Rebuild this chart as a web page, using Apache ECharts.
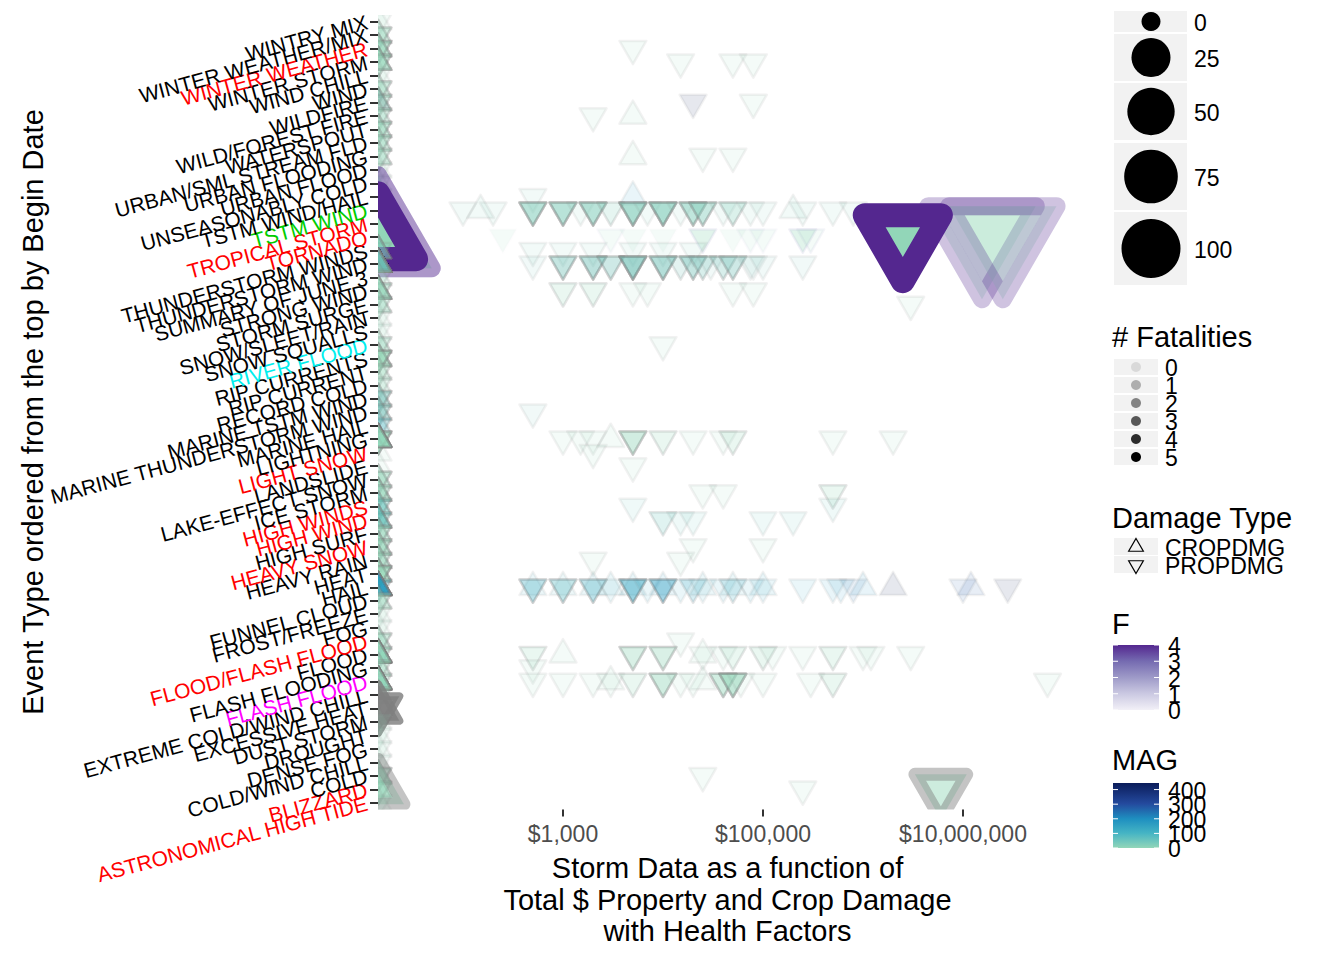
<!DOCTYPE html>
<html><head><meta charset="utf-8">
<script src="https://cdn.jsdelivr.net/npm/echarts@6/dist/echarts.min.js"></script>
<style>html,body{margin:0;padding:0;background:#fff}#c{width:1344px;height:960px}</style>
</head><body><div id="c"></div>
<script>
// Event types, bottom to top
const categories = ["ASTRONOMICAL HIGH TIDE","BLIZZARD","COLD","COLD/WIND CHILL","DENSE FOG","DROUGHT","DUST STORM","EXCESSIVE HEAT","EXTREME COLD/WIND CHILL","FLASH FLOOD","FLASH FLOODING","FLOOD","FLOOD/FLASH FLOOD","FOG","FROST/FREEZE","FUNNEL CLOUD","HAIL","HEAT","HEAVY RAIN","HEAVY SNOW","HIGH SURF","HIGH WIND","HIGH WINDS","ICE STORM","LAKE-EFFECT SNOW","LANDSLIDE","LIGHT SNOW","LIGHTNING","MARINE HAIL","MARINE THUNDERSTORM WIND","MARINE TSTM WIND","RECORD COLD","RIP CURRENT","RIP CURRENTS","RIVER FLOOD","SNOW SQUALLS","SNOW/SLEET/RAIN","STORM SURGE","STRONG WIND","SUMMARY OF JUNE 3","THUNDERSTORM WIND","THUNDERSTORM WINDS","TORNADO","TROPICAL STORM","TSTM WIND","TSTM WIND/HAIL","UNSEASONABLY COLD","URBAN FLOOD","URBAN FLOODING","URBAN/SML STREAM FLD","WATERSPOUT","WILD/FOREST FIRE","WILDFIRE","WIND","WIND CHILL","WINTER STORM","WINTER WEATHER","WINTER WEATHER/MIX","WINTRY MIX"];

// highlighted event type labels
const labelHighlight = {"TSTM WIND":"#00CD00","RIVER FLOOD":"#00EEEE","FLASH FLOOD":"#FF00FF",
  "WINTER WEATHER":"#FF0000","TROPICAL STORM":"#FF0000","TORNADO":"#FF0000","LIGHT SNOW":"#FF0000","HIGH WINDS":"#FF0000",
  "HIGH WIND":"#FF0000","HEAVY SNOW":"#FF0000","FLOOD/FLASH FLOOD":"#FF0000","BLIZZARD":"#FF0000","ASTRONOMICAL HIGH TIDE":"#FF0000"};

const xTicks = [1000, 100000, 10000000];
const sizeBreaks = [0, 25, 50, 75, 100];
const fatalityBreaks = [0, 1, 2, 3, 4, 5];
const damageTypes = ["CROPDMG", "PROPDMG"];
const fBreaks = [0, 1, 2, 3, 4];
const magBreaks = [0, 100, 200, 300, 400];

// [event type, PROPDMG $, CROPDMG $, fatalities, injuries (size), MAG, F, stroke variable, number of events]
const events = [
["WINTRY MIX",0,0,0,0,0,null,0,1],
["WINTER WEATHER/MIX",0,0,0,0,0,null,0,4],
["WINTER WEATHER",0,0,0,0,0,null,0,6],
["WINTER WEATHER",5000,0,0,0,0,null,0,1],
["WINTER STORM",0,0,0,0,0,null,0,5],
["WINTER STORM",15000,0,0,0,0,null,0,1],
["WINTER STORM",50000,0,0,0,0,null,0,1],
["WINTER STORM",80000,0,0,0,0,null,0,1],
["WIND CHILL",0,0,0,0,0,null,0,1],
["WIND",0,0,0,0,0,null,0,4],
["WILDFIRE",0,0,0,0,0,null,0,4],
["WILDFIRE",20000,0,0,0,440,null,0,1],
["WILDFIRE",80000,0,0,0,0,null,0,1],
["WILD/FOREST FIRE",2000,5000,0,0,0,null,0,1],
["WILD/FOREST FIRE",0,0,0,0,0,null,0,3],
["WATERSPOUT",0,0,0,0,0,null,0,5],
["URBAN/SML STREAM FLD",0,0,0,0,0,null,0,4],
["URBAN FLOODING",25000,5000,0,0,0,null,0,1],
["URBAN FLOODING",50000,0,0,0,0,null,0,1],
["URBAN FLOODING",0,0,0,0,0,null,0,3],
["URBAN FLOOD",0,0,0,0,0,null,0,1],
["UNSEASONABLY COLD",0,0,0,0,0,null,0,1],
["TSTM WIND/HAIL",500,0,0,0,30,null,0,1],
["TSTM WIND/HAIL",0,5000,0,0,175,null,0,1],
["TSTM WIND",100,0,0,0,30,null,0,1],
["TSTM WIND",200,0,0,0,30,null,0,1],
["TSTM WIND",500,0,0,0,30,null,0,7],
["TSTM WIND",1000,0,0,0,30,null,0,7],
["TSTM WIND",1500,0,0,0,30,null,0,1],
["TSTM WIND",2000,0,0,0,30,null,0,7],
["TSTM WIND",3000,0,0,0,30,null,0,2],
["TSTM WIND",5000,0,0,0,30,null,0,9],
["TSTM WIND",7000,0,0,0,30,null,0,1],
["TSTM WIND",10000,0,0,0,30,null,0,9],
["TSTM WIND",15000,0,0,0,30,null,0,1],
["TSTM WIND",20000,0,0,0,30,null,0,6],
["TSTM WIND",25000,0,0,0,30,null,0,5],
["TSTM WIND",40000,0,0,0,30,null,0,1],
["TSTM WIND",50000,0,0,0,30,null,0,3],
["TSTM WIND",75000,0,0,0,30,null,0,1],
["TSTM WIND",100000,0,0,0,30,null,0,1],
["TSTM WIND",250000,0,0,0,30,null,0,1],
["TSTM WIND",500000,0,0,0,30,null,0,1],
["TSTM WIND",800000,0,0,0,30,null,0,1],
["TSTM WIND",0,150,0,0,30,null,0,1],
["TSTM WIND",0,200000,0,0,30,null,0,1],
["TROPICAL STORM",0,0,0,0,0,null,0,1],
["TORNADO",250,0,0,0,0,0,0,1],
["TORNADO",3000,0,0,0,0,1,0,1],
["TORNADO",5000,0,0,0,0,0,0,1],
["TORNADO",10000,0,0,0,0,0,0,1],
["TORNADO",25000,0,1,0,0,1,0,1],
["TORNADO",50000,0,0,0,0,0,0,1],
["TORNADO",75000,0,0,0,0,1,0,1],
["TORNADO",100000,0,0,0,0,1,0,1],
["TORNADO",250000,0,1,0,0,1,0,1],
["TORNADO",300000,0,0,0,0,2,0,1],
["TORNADO",15500000,0,1,150,0,4,3.9,1],
["TORNADO",25000000,0,1,150,0,4,3.9,1],
["TORNADO",2500000,0,5,20,0,4,5.4,1],
["THUNDERSTORM WINDS",0,0,0,0,30,null,0,2],
["THUNDERSTORM WINDS",500,0,0,0,30,null,0,1],
["THUNDERSTORM WINDS",1000,0,0,0,30,null,0,1],
["THUNDERSTORM WINDS",2000,0,0,0,30,null,0,1],
["THUNDERSTORM WINDS",5000,0,0,0,30,null,0,1],
["THUNDERSTORM WINDS",10000,0,0,0,30,null,0,1],
["THUNDERSTORM WINDS",20000,0,0,0,30,null,0,1],
["THUNDERSTORM WIND",500,0,0,0,40,null,0,1],
["THUNDERSTORM WIND",1000,0,0,0,40,null,0,5],
["THUNDERSTORM WIND",2000,0,0,0,40,null,0,6],
["THUNDERSTORM WIND",3000,0,0,0,40,null,0,4],
["THUNDERSTORM WIND",5000,0,0,0,40,null,0,10],
["THUNDERSTORM WIND",10000,0,0,0,40,null,0,7],
["THUNDERSTORM WIND",15000,0,0,0,40,null,0,2],
["THUNDERSTORM WIND",20000,0,0,0,40,null,0,5],
["THUNDERSTORM WIND",25000,0,0,0,40,null,0,3],
["THUNDERSTORM WIND",30000,0,0,0,40,null,0,1],
["THUNDERSTORM WIND",40000,0,0,0,40,null,0,3],
["THUNDERSTORM WIND",50000,0,0,0,40,null,0,4],
["THUNDERSTORM WIND",75000,0,0,0,40,null,0,1],
["THUNDERSTORM WIND",80000,0,0,0,40,null,0,1],
["THUNDERSTORM WIND",100000,0,0,0,40,null,0,1],
["THUNDERSTORM WIND",250000,0,0,0,40,null,0,1],
["SUMMARY OF JUNE 3",0,0,0,0,0,null,0,2],
["STRONG WIND",0,0,0,0,0,null,0,4],
["STRONG WIND",1000,0,0,0,0,null,0,2],
["STRONG WIND",2000,0,0,0,0,null,0,2],
["STRONG WIND",5000,0,0,0,0,null,0,1],
["STRONG WIND",7000,0,0,0,0,null,0,1],
["STRONG WIND",50000,0,0,0,0,null,0,1],
["STRONG WIND",80000,0,0,0,0,null,0,1],
["STORM SURGE",3000000,0,0,0,0,null,0,1],
["STORM SURGE",0,0,0,0,0,null,0,3],
["SNOW/SLEET/RAIN",0,0,0,0,0,null,0,1],
["SNOW SQUALLS",0,0,0,0,0,null,0,1],
["RIVER FLOOD",10000,0,0,0,0,null,0,1],
["RIVER FLOOD",0,0,0,0,0,null,0,3],
["RIP CURRENTS",0,0,1,0,0,null,0,3],
["RIP CURRENT",0,0,1,0,0,null,0,1],
["RECORD COLD",0,0,0,0,0,null,0,2],
["MARINE TSTM WIND",0,0,0,0,40,null,0,5],
["MARINE THUNDERSTORM WIND",500,0,0,0,40,null,0,1],
["MARINE THUNDERSTORM WIND",0,0,0,0,40,null,0,4],
["MARINE HAIL",0,0,0,0,75,null,0,3],
["LIGHTNING",0,0,1,0,0,null,0,3],
["LIGHTNING",1000,0,0,0,0,null,0,1],
["LIGHTNING",1500,0,0,0,0,null,0,1],
["LIGHTNING",2000,0,0,0,0,null,0,1],
["LIGHTNING",5000,0,0,0,0,null,0,4],
["LIGHTNING",5000,3000,0,0,0,null,0,1],
["LIGHTNING",10000,0,0,0,0,null,0,2],
["LIGHTNING",20000,0,0,0,0,null,0,1],
["LIGHTNING",40000,0,0,0,0,null,0,1],
["LIGHTNING",50000,0,0,0,0,null,0,2],
["LIGHTNING",500000,0,0,0,0,null,0,1],
["LIGHTNING",2000000,0,0,0,0,null,0,1],
["LIGHT SNOW",2000,0,0,0,0,null,0,1],
["LANDSLIDE",5000,0,0,0,0,null,0,1],
["LAKE-EFFECT SNOW",0,0,0,0,0,null,0,5],
["ICE STORM",25000,0,0,0,0,null,0,1],
["ICE STORM",40000,0,0,0,0,null,0,1],
["ICE STORM",500000,0,0,0,0,null,0,2],
["ICE STORM",0,0,0,0,0,null,0,4],
["HIGH WINDS",5000,0,0,0,60,null,0,1],
["HIGH WINDS",500000,0,0,0,60,null,0,1],
["HIGH WINDS",0,0,0,0,60,null,0,4],
["HIGH WIND",0,0,0,0,60,null,0,4],
["HIGH WIND",10000,0,0,0,60,null,0,2],
["HIGH WIND",15000,0,0,0,60,null,0,1],
["HIGH WIND",20000,0,0,0,60,null,0,1],
["HIGH WIND",100000,0,0,0,60,null,0,1],
["HIGH WIND",200000,0,0,0,60,null,0,1],
["HIGH SURF",0,0,0,0,0,null,0,5],
["HEAVY SNOW",0,0,0,0,0,null,0,5],
["HEAVY SNOW",20000,0,0,0,0,null,0,1],
["HEAVY SNOW",100000,0,0,0,0,null,0,1],
["HEAVY RAIN",0,0,0,0,0,null,0,4],
["HEAVY RAIN",2000,0,0,0,0,null,0,1],
["HEAVY RAIN",15000,0,0,0,0,null,0,1],
["HEAT",0,0,1,0,0,null,0,3],
["HAIL",0,0,0,0,100,null,0,4],
["HAIL",500,500,0,0,100,null,0,1],
["HAIL",500,0,0,0,100,null,0,3],
["HAIL",1000,1000,0,0,75,null,0,1],
["HAIL",1000,0,0,0,75,null,0,3],
["HAIL",2000,2000,0,0,100,null,0,1],
["HAIL",2000,0,0,0,100,null,0,3],
["HAIL",3000,3000,0,0,100,null,0,1],
["HAIL",5000,5000,0,0,150,null,0,1],
["HAIL",5000,0,0,0,150,null,0,5],
["HAIL",7000,0,0,0,150,null,0,1],
["HAIL",10000,10000,0,0,175,null,0,1],
["HAIL",10000,0,0,0,175,null,0,4],
["HAIL",15000,0,0,0,150,null,0,1],
["HAIL",20000,0,0,0,150,null,0,2],
["HAIL",25000,25000,0,0,100,null,0,1],
["HAIL",40000,0,0,0,150,null,0,1],
["HAIL",50000,50000,0,0,100,null,0,1],
["HAIL",50000,0,0,0,100,null,0,1],
["HAIL",75000,100000,0,0,150,null,0,1],
["HAIL",100000,0,0,0,150,null,0,1],
["HAIL",250000,0,0,0,150,null,0,1],
["HAIL",500000,0,0,0,175,null,0,1],
["HAIL",600000,1000000,0,0,200,null,0,1],
["HAIL",800000,0,0,0,250,null,0,1],
["HAIL",10000000,12000000,0,0,275,null,0,1],
["HAIL",28000000,2000000,0,0,440,null,0,1],
["FUNNEL CLOUD",0,0,0,0,0,null,0,4],
["FROST/FREEZE",0,0,0,0,0,null,0,1],
["FOG",0,0,0,0,0,null,0,1],
["FLOOD/FLASH FLOOD",15000,0,0,0,0,null,0,1],
["FLOOD/FLASH FLOOD",0,0,0,0,0,null,0,4],
["FLOOD",0,0,0,0,0,null,0,3],
["FLOOD",500,0,0,0,0,null,0,2],
["FLOOD",0,1000,0,0,0,null,0,1],
["FLOOD",5000,0,0,0,0,null,0,4],
["FLOOD",10000,0,0,0,0,null,0,4],
["FLOOD",25000,25000,0,0,0,null,0,1],
["FLOOD",40000,0,0,0,0,null,0,1],
["FLOOD",50000,0,0,0,0,null,0,2],
["FLOOD",100000,0,0,0,0,null,0,2],
["FLOOD",125000,0,0,0,0,null,0,1],
["FLOOD",250000,0,0,0,0,null,0,1],
["FLOOD",500000,0,0,0,0,null,0,2],
["FLOOD",1000000,0,0,0,0,null,0,1],
["FLOOD",1200000,0,0,0,0,null,0,1],
["FLOOD",3000000,0,0,0,0,null,0,1],
["FLASH FLOODING",500,0,0,0,0,null,0,1],
["FLASH FLOODING",0,0,0,0,0,null,0,3],
["FLASH FLOOD",0,0,0,0,0,null,0,3],
["FLASH FLOOD",500,0,0,0,0,null,0,1],
["FLASH FLOOD",1000,0,0,0,0,null,0,1],
["FLASH FLOOD",2000,0,0,0,0,null,0,1],
["FLASH FLOOD",3000,3000,0,0,0,null,0,1],
["FLASH FLOOD",5000,0,0,0,0,null,0,2],
["FLASH FLOOD",10000,0,0,0,0,null,0,5],
["FLASH FLOOD",15000,0,0,0,0,null,0,1],
["FLASH FLOOD",20000,25000,0,0,0,null,0,1],
["FLASH FLOOD",40000,0,0,0,0,null,0,5],
["FLASH FLOOD",50000,0,0,0,0,null,0,7],
["FLASH FLOOD",60000,0,0,0,0,null,0,1],
["FLASH FLOOD",100000,0,0,0,0,null,0,1],
["FLASH FLOOD",300000,0,0,0,0,null,0,1],
["FLASH FLOOD",500000,0,0,0,0,null,0,2],
["FLASH FLOOD",70000000,0,0,0,0,null,0,1],
["EXTREME COLD/WIND CHILL",0,0,1,0,0,null,0,1],
["EXCESSIVE HEAT",0,0,4,3.4,null,null,1.35,1],
["DUST STORM",0,0,0,0,0,null,0,1],
["DROUGHT",0,0,0,0,0,null,0,1],
["DENSE FOG",0,0,0,0,0,null,0,1],
["COLD/WIND CHILL",0,0,0,0,0,null,0,1],
["COLD",25000,0,0,0,0,null,0,1],
["COLD",0,0,0,0,0,null,0,5],
["BLIZZARD",250000,0,0,0,0,null,0,1],
["BLIZZARD",0,0,0,0,0,null,0,4],
["BLIZZARD",6000000,0,2,5.9,0,null,2.6,1],
["ASTRONOMICAL HIGH TIDE",0,0,0,0,0,null,0,1]
];

// ---- scales ----
const X_MIN = 1.15, X_MAX = 8.14;               // log10($) panel limits
const xPos = v => (v > 0 ? Math.log10(v) : X_MIN); // 0 -> -Inf (panel edge)
const magStops = [[0,'#92d6b8'],[0.23,'#45b4c4'],[0.45,'#1e8fc0'],[0.68,'#244a9e'],[1,'#0b1c5a']];
const MAG_MAX = 445;
const fStops = [[0,'#f2f0f7'],[0.25,'#cbc9e2'],[0.5,'#9e9ac8'],[0.75,'#756bb1'],[1,'#54278f']];
function hex(c){return [parseInt(c.substr(1,2),16),parseInt(c.substr(3,2),16),parseInt(c.substr(5,2),16)];}
function ramp(stops,t){t=Math.max(0,Math.min(1,t));for(let i=1;i<stops.length;i++){if(t<=stops[i][0]){const a=stops[i-1],b=stops[i];const u=(t-a[0])/(b[0]-a[0]);const ca=hex(a[1]),cb=hex(b[1]);return 'rgb('+ca.map((v,k)=>Math.round(v+(cb[k]-v)*u)).join(',')+')';}}return stops[stops.length-1][1];}
const NA_COL = '#7f7f7f';
const magColor = m => (m === null ? NA_COL : ramp(magStops, m / MAG_MAX));
const fColor = f => (f === null ? NA_COL : ramp(fStops, f / 4));
const alphaOf = fat => 0.1 + 0.18 * Math.min(fat, 5);
const diam = s => 19 + 4 * Math.sqrt(s);
const strokeW = k => 2.5 + 4 * k;

// ---- points (one up-triangle for CROPDMG, one down-triangle for PROPDMG per event) ----
const pts = [];
events.forEach(e => {
  const [ev, prop, crop, fat, inj, mag, f, stk, n] = e;
  const y = categories.indexOf(ev);
  for (let k = 0; k < n; k++) {
    pts.push({type:'CROPDMG', x:xPos(crop), y, fat, inj, mag, f, stk});
    pts.push({type:'PROPDMG', x:xPos(prop), y, fat, inj, mag, f, stk});
  }
});

const FONT = 'Liberation Sans, Arial, Helvetica, sans-serif';

function renderTri(params, api){
  const p = pts[params.dataIndex];
  const c = api.coord([api.value(0), api.value(1)]);
  const lw = strokeW(p.stk);
  const r = 0.72 * (diam(p.inj) + lw);
  const hw = r * Math.sqrt(3) / 2;
  const s = p.type === 'CROPDMG' ? 1 : -1;
  const a = alphaOf(p.fat);
  return {
    type:'polygon',
    shape:{points:[[c[0], c[1]-s*r],[c[0]+hw, c[1]+s*r/2],[c[0]-hw, c[1]+s*r/2]]},
    style:{fill:magColor(p.mag), stroke:fColor(p.f), lineWidth:lw, lineJoin:'round',
           fillOpacity:a, strokeOpacity:a}
  };
}

// ---- legends (graphic) ----
const G = [];
function txt(x,y,s,size,opt){G.push(Object.assign({type:'text',x,y,silent:true,style:{text:s,font:size+'px '+FONT,fill:'#000',align:'left',verticalAlign:'middle'}},opt||{}));}
// size legend
const keyTops=[11,34,83,143,212], keyH=[21,47,57,67,73];
sizeBreaks.forEach((v,i)=>{
  G.push({type:'rect',shape:{x:1114,y:keyTops[i],width:73,height:keyH[i]},style:{fill:'#f2f2f2'},silent:true});
  G.push({type:'circle',shape:{cx:1151,cy:keyTops[i]+keyH[i]/2,r:diam(v)/2},style:{fill:'#000'},silent:true});
  txt(1194,keyTops[i]+keyH[i]/2+1,String(v),23);
});
// fatalities legend
txt(1112,337,'# Fatalities',29);
fatalityBreaks.forEach((v,i)=>{
  const y0=359+18*i;
  G.push({type:'rect',shape:{x:1114,y:y0,width:44,height:16},style:{fill:'#f2f2f2'},silent:true});
  G.push({type:'circle',shape:{cx:1136,cy:y0+8,r:5},style:{fill:'#000',opacity:alphaOf(v)},silent:true});
  txt(1165,y0+9,String(v),23);
});
// damage type legend
txt(1112,518,'Damage Type',29);
damageTypes.forEach((v,i)=>{
  const y0=538+18*i, cy=y0+9, s=(v==='CROPDMG')?1:-1, r=8.5, hw=r*0.866;
  G.push({type:'rect',shape:{x:1114,y:y0,width:44,height:17},style:{fill:'#f2f2f2'},silent:true});
  G.push({type:'polygon',shape:{points:[[1136,cy-s*r],[1136+hw,cy+s*r/2],[1136-hw,cy+s*r/2]]},style:{fill:'none',stroke:'#000',lineWidth:1.2},silent:true});
  txt(1165,cy+1,v,23);
});
// F colourbar
txt(1112,624,'F',29);
G.push({type:'rect',shape:{x:1113,y:645,width:46,height:65},silent:true,
  style:{fill:new echarts.graphic.LinearGradient(0,1,0,0,fStops.map(s=>({offset:s[0],color:s[1]})))}});
fBreaks.forEach(v=>{
  const y=710-65*v/4;
  G.push({type:'line',shape:{x1:1113,y1:y,x2:1118,y2:y},style:{stroke:'#fff',lineWidth:1},silent:true});
  G.push({type:'line',shape:{x1:1154,y1:y,x2:1159,y2:y},style:{stroke:'#fff',lineWidth:1},silent:true});
  txt(1168,y+1,String(v),23);
});
// MAG colourbar
txt(1112,760,'MAG',29);
G.push({type:'rect',shape:{x:1113,y:783,width:46,height:65},silent:true,
  style:{fill:new echarts.graphic.LinearGradient(0,1,0,0,magStops.map(s=>({offset:s[0],color:s[1]})))}});
magBreaks.forEach(v=>{
  const y=848-65*v/MAG_MAX;
  G.push({type:'line',shape:{x1:1113,y1:y,x2:1118,y2:y},style:{stroke:'#fff',lineWidth:1},silent:true});
  G.push({type:'line',shape:{x1:1154,y1:y,x2:1159,y2:y},style:{stroke:'#fff',lineWidth:1},silent:true});
  txt(1168,y+1,String(v),23);
});
// axis titles
G.push({type:'text',x:33,y:412,rotation:Math.PI/2,silent:true,style:{text:'Event Type ordered from the top by Begin Date',font:'29px '+FONT,fill:'#000',align:'center',verticalAlign:'middle'}});
['Storm Data as a function of','Total $ Property and Crop Damage','with Health Factors'].forEach((s,i)=>{
  G.push({type:'text',x:727.5,y:868+31.5*i,silent:true,style:{text:s,font:'29px '+FONT,fill:'#000',align:'center',verticalAlign:'middle'}});
});

const chart = echarts.init(document.getElementById('c'), null, {renderer:'svg'});
chart.setOption({
  animation:false,
  backgroundColor:'#fff',
  grid:{left:378, right:267, top:15, height:794.5, containLabel:false},
  xAxis:{type:'value', min:X_MIN, max:X_MAX,
    axisLine:{show:false}, splitLine:{show:false},
    axisTick:{show:true, length:7, lineStyle:{color:'#333', width:2}, customValues:xTicks.map(v=>Math.log10(v))},
    axisLabel:{customValues:xTicks.map(v=>Math.log10(v)), margin:13, fontSize:23, fontFamily:FONT, color:'#4d4d4d',
      formatter:v=>'$'+Math.round(Math.pow(10,v)).toLocaleString('en-US')}},
  yAxis:{type:'category', data:categories, boundaryGap:true,
    axisLine:{show:false}, splitLine:{show:false},
    axisTick:{show:true, alignWithLabel:true, length:8, lineStyle:{color:'#333', width:2}},
    axisLabel:{interval:0, rotate:15, margin:11, fontSize:21, fontFamily:FONT,
      color:(v)=>labelHighlight[v]||'#000'}},
  series:[{type:'custom', clip:true, silent:true, coordinateSystem:'cartesian2d',
    encode:{x:0, y:1}, data:pts.map(p=>[p.x, p.y]), renderItem:renderTri}],
  graphic:{elements:G}
});
</script></body></html>
